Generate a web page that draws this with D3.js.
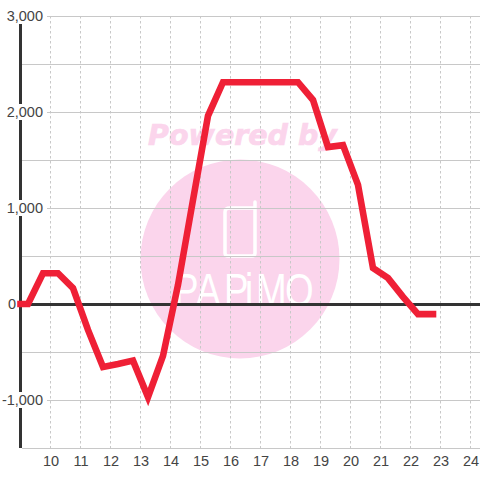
<!DOCTYPE html>
<html><head><meta charset="utf-8">
<script src="https://cdn.jsdelivr.net/npm/d3@7/dist/d3.min.js"></script>
<style>html,body{margin:0;padding:0;background:#fff}svg{display:block}text{font-family:"Liberation Sans",Arial,sans-serif}</style>
</head><body><svg id="c" width="480" height="480"></svg>
<script>
const hours=[9,9.25,9.75,10.25,10.75,11.25,11.75,12.25,12.75,13.25,13.75,14.25,14.75,15.25,15.75,16.25,16.75,17.25,17.75,18.25,18.75,19.25,19.75,20.25,20.75,21.25,21.75,22.25,22.75];
const values=[0,0,320,320,165,-270,-655,-625,-590,-970,-540,198,1083,1960,2310,2310,2310,2310,2310,2310,2125,1635,1655,1240,375,270,75,-105,-105];
const xTicks=[10,11,12,13,14,15,16,17,18,19,20,21,22,23,24];
const yMajor=[3000,2000,1000,0,-1000];
const yGrid=[3000,2500,2000,1500,1000,500,-500,-1000,-1500];

const svg=d3.select("#c");
const x=d3.scaleLinear().domain([9,24]).range([20.5,470.5]);
const y=d3.scaleLinear().domain([-1500,3000]).range([448,16]);
const fmt=d=>d3.format(",")(d).replace("\u2212","-");

// watermark
const wm=svg.append("g");
wm.append("circle").attr("cx",240).attr("cy",259).attr("r",99.5).attr("fill","#fbd5ec");
wm.append("text").attr("x",242.5).attr("y",144.5).attr("text-anchor","middle")
  .style("font-family","'DejaVu Sans'").style("font-weight","bold").style("font-style","italic")
  .style("font-size","28.5px").attr("fill","#fbd5ec").attr("stroke","#fbd5ec").attr("stroke-width",.7).text("Powered by");
wm.append("path").attr("fill","none").attr("stroke","#fff").attr("stroke-width",3.5).attr("stroke-linejoin","round").attr("stroke-linecap","round")
  .attr("d","M230 208H255V202V253Q255 256 252 256H228Q225 256 225 253V212Q225 208 230 208");
wm.append("text").attr("transform","scale(0.8,1)")
  .attr("x",[174,196,224,245,256,285].map(v=>v/0.8).join(" ")).attr("y",306)
  .style("font-family","'Liberation Sans Narrow','Liberation Sans'").style("font-size","46px")
  .attr("fill","#fff").text("PAPiMO");

// grid
svg.append("g").selectAll("line").data(yGrid).join("line")
  .attr("x1",22).attr("x2",480).attr("y1",d=>y(d)+.5).attr("y2",d=>y(d)+.5)
  .attr("stroke","#c8c8c8").attr("stroke-width",1);
svg.append("g").selectAll("line").data(xTicks).join("line")
  .attr("x1",d=>x(d)).attr("x2",d=>x(d)).attr("y1",y(3000)).attr("y2",y(-1500))
  .attr("stroke","#c8c8c8").attr("stroke-width",1).attr("stroke-dasharray","2.5 2.5");

// axes
svg.append("line").attr("x1",x(9)).attr("x2",x(9)).attr("y1",y(3000)).attr("y2",y(-1500)).attr("stroke","#333").attr("stroke-width",3);
svg.append("line").attr("x1",20).attr("x2",480).attr("y1",y(0)+.5).attr("y2",y(0)+.5).attr("stroke","#333").attr("stroke-width",3);

// y labels
const yl=svg.append("g").selectAll("g").data(yMajor).join("g");
yl.filter(d=>d!==0).append("rect").attr("x",0).attr("width",47).attr("y",d=>y(d)-8).attr("height",16).attr("fill","#fff");
yl.append("text").attr("x",d=>d===0?16:43).attr("y",d=>y(d)+5).attr("text-anchor","end")
  .style("font-size","14.5px").attr("fill","#444").text(fmt);

// x labels
svg.append("g").selectAll("text").data(xTicks).join("text")
  .attr("x",d=>x(d)+.5).attr("y",466).attr("text-anchor","middle")
  .style("font-size","14.5px").attr("fill","#444").text(d=>d);

// series
svg.append("path").datum(hours.map((h,i)=>[h,values[i]]))
  .attr("fill","none").attr("stroke","#ef2036").attr("stroke-width",6.6)
  .attr("stroke-linecap","square").attr("stroke-linejoin","miter")
  .attr("d",d3.line().x(d=>x(d[0])).y(d=>y(d[1])));
</script></body></html>
